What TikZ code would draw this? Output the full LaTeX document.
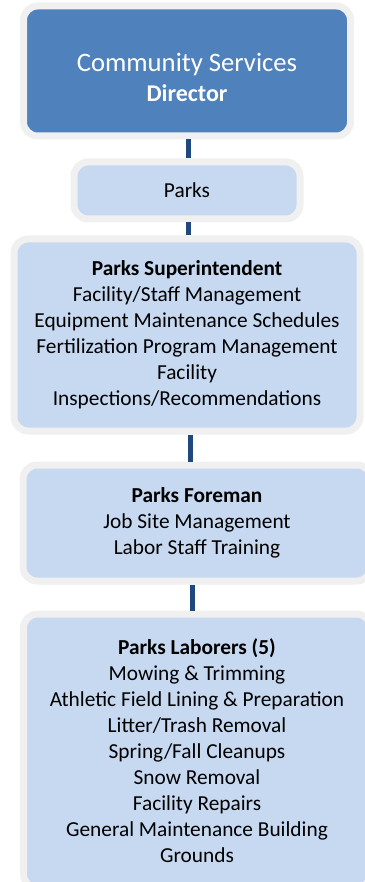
\documentclass[tikz,border=0pt]{standalone}
\usepackage{fontspec}
\setmainfont{Carlito}
\usetikzlibrary{positioning,calc}
\definecolor{headblue}{RGB}{79,129,189}
\definecolor{unitblue}{RGB}{198,217,241}
\definecolor{framegray}{RGB}{240,240,240}
\definecolor{linkblue}{RGB}{31,73,125}

\begin{document}
\begin{tikzpicture}[
  x=1pt, y=-1pt,
  every node/.style={font=\fontsize{21.33}{26}\selectfont},
  headbox/.style={
    rectangle, rounded corners=14pt,
    draw=framegray, line width=7pt,
    fill=headblue, text=white,
    align=center, inner sep=2pt,
    font=\fontsize{26.67}{30}\selectfont
  },
  unitbox/.style={
    rectangle, rounded corners=14pt,
    draw=framegray, line width=7pt,
    fill=unitblue, text=black,
    align=center, inner sep=2pt
  },
  link/.style={draw=linkblue, line width=5pt}
]
\useasboundingbox (0,0) rectangle (364,882);

% Top - director
\node[headbox, minimum width=327pt, minimum height=130pt] (director) at (187,71) {%
  \rule{0pt}{31pt}Community Services\\
  {\fontsize{24}{30}\selectfont\bfseries Director}};

% Division
\node[unitbox, minimum width=226pt, minimum height=57pt] (parks) at (187,190.5) {Parks};

% Staff boxes
\node[unitbox, minimum width=346pt, minimum height=192pt] (super) at (187,335) {%
  \textbf{Parks Superintendent}\\
  Facility/Staff Management\\
  Equipment Maintenance Schedules\\
  Fertilization Program Management\\
  Facility\\
  Inspections/Recommendations};
\node[unitbox, minimum width=348pt, minimum height=116pt] (foreman) at (197,523) {%
  \textbf{Parks Foreman}\\
  Job Site Management\\
  Labor Staff Training};
\node[unitbox, minimum width=347pt, minimum height=274pt] (laborers) at (197,751) {%
  \textbf{Parks Laborers (5)}\\
  Mowing \& Trimming\\
  Athletic Field Lining \& Preparation\\
  Litter/Trash Removal\\
  Spring/Fall Cleanups\\
  Snow Removal\\
  Facility Repairs\\
  General Maintenance Building\\
  Grounds};

% Reporting lines
\draw[link] ([xshift=1pt]director.south) -- ([xshift=1pt]parks.north);
\draw[link] ([xshift=1pt]parks.south) -- ([xshift=1pt]super.north);
\draw[link] ([xshift=3.5pt]super.south) -- ([xshift=-6.5pt]foreman.north);
\draw[link] ([xshift=-5pt]foreman.south) -- ([xshift=-5pt]laborers.north);

\end{tikzpicture}
\end{document}
